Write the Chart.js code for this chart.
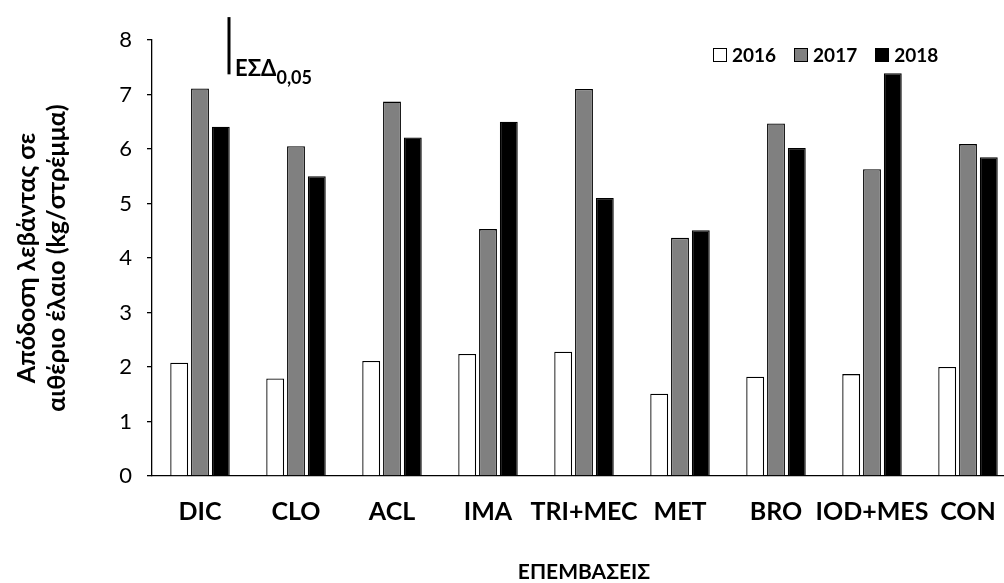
<!DOCTYPE html>
<html>
<head>
<meta charset="utf-8">
<script src="https://cdn.jsdelivr.net/npm/chart.js@4/dist/chart.umd.min.js"></script>
<style>
  html, body { margin: 0; padding: 0; background: #fff; overflow: hidden; width: 1004px; height: 583px; }
  #wrap { position: relative; width: 1004px; height: 583px; overflow: hidden; }
  canvas { position: absolute; left: 0; top: 0; }
  #legend { position: absolute; left: 713px; top: 45px; font: bold 19px Lato, "DejaVu Sans", sans-serif; line-height: 20px; color: #000; display: flex; }
  #legend .item { display: flex; align-items: center; margin-right: 18px; }
  #legend .box { width: 12px; height: 12px; border: 1.3px solid #000; margin-right: 5px; }
</style>
</head>
<body>
<div id="wrap">
  <canvas id="chart" width="1030" height="583"></canvas>
  <div id="legend"></div>
</div>
<script>
const categories = ['DIC', 'CLO', 'ACL', 'IMA', 'TRI+MEC', 'MET', 'BRO', 'IOD+MES', 'CON'];
const years = ['2016', '2017', '2018'];
const y2016 = [2.08, 1.79, 2.11, 2.24, 2.28, 1.51, 1.82, 1.87, 2.00];
const y2017 = [7.11, 6.05, 6.87, 4.53, 7.10, 4.37, 6.47, 5.63, 6.09];
const y2018 = [6.41, 5.50, 6.21, 6.50, 5.10, 4.51, 6.02, 7.39, 5.85];
const yTicks = [0, 1, 2, 3, 4, 5, 6, 7, 8];
const LSD = 1.05;       // ΕΣΔ 0,05
const LSD_TOP = 8.42;

const fills = ['#ffffff', '#808080', '#000000'];
const FONT = 'Lato, "DejaVu Sans", sans-serif';

// legend
document.getElementById('legend').innerHTML = years.map((y, i) =>
  `<div class="item"><span class="box" style="background:${fills[i]}"></span>${y}</div>`).join('');

const lsdPlugin = {
  id: 'lsd',
  afterDraw(chart) {
    const { ctx, scales: { x, y } } = chart;
    const px = x.getPixelForValue(0) + 29;
    ctx.save();
    ctx.strokeStyle = '#000';
    ctx.lineWidth = 3;
    ctx.beginPath();
    ctx.moveTo(px, y.getPixelForValue(LSD_TOP));
    ctx.lineTo(px, y.getPixelForValue(LSD_TOP - LSD));
    ctx.stroke();
    const base = y.getPixelForValue(LSD_TOP - LSD) + 2;
    ctx.fillStyle = '#000';
    ctx.textBaseline = 'alphabetic';
    ctx.font = 'bold 22px ' + FONT;
    ctx.fillText('ΕΣΔ', px + 6, base);
    const w = ctx.measureText('ΕΣΔ').width;
    ctx.font = 'bold 18px ' + FONT;
    ctx.fillText('0,05', px + 6 + w, base + 8);
    ctx.restore();
  }
};

new Chart(document.getElementById('chart'), {
  type: 'bar',
  data: {
    labels: categories,
    datasets: [y2016, y2017, y2018].map((d, i) => ({
      label: years[i],
      data: d,
      backgroundColor: fills[i],
      borderColor: '#000',
      borderWidth: 1.3,
      barPercentage: 0.86,
      categoryPercentage: 0.65
    }))
  },
  options: {
    responsive: false,
    animation: false,
    devicePixelRatio: 1,
    layout: { padding: { top: 40, right: 14, left: 0, bottom: 0 } },
    plugins: { legend: { display: false }, tooltip: { enabled: false } },
    scales: {
      x: {
        grid: { display: false, drawTicks: false },
        border: { color: '#000', width: 1.3 },
        ticks: { color: '#000', font: { family: FONT, size: 25, weight: 'bold' }, padding: 21, maxRotation: 0, autoSkip: false },
        title: { display: true, text: 'ΕΠΕΜΒΑΣΕΙΣ', color: '#000', font: { family: FONT, size: 21, weight: 'bold', lineHeight: 1 }, padding: { top: 0, bottom: 0 } },
        afterFit(s) { s.height = 107; }
      },
      y: {
        min: 0, max: 8,
        afterBuildTicks(s) { s.ticks = yTicks.map(v => ({ value: v })); },
        grid: { drawOnChartArea: false, drawTicks: true, tickLength: 5, color: '#000', lineWidth: 1.3 },
        border: { color: '#000', width: 1.3 },
        ticks: { color: '#000', font: { family: FONT, size: 22 }, padding: 15 },
        title: { display: true, text: ['Απόδοση λεβάντας σε', 'αιθέριο έλαιο (kg/στρέμμα)'], color: '#000',
                 font: { family: FONT, size: 25, weight: 'bold', lineHeight: 1.2 }, padding: { top: 12, bottom: 0 } },
        afterFit(s) { s.width = 152; }
      }
    }
  },
  plugins: [lsdPlugin]
});
</script>
</body>
</html>
